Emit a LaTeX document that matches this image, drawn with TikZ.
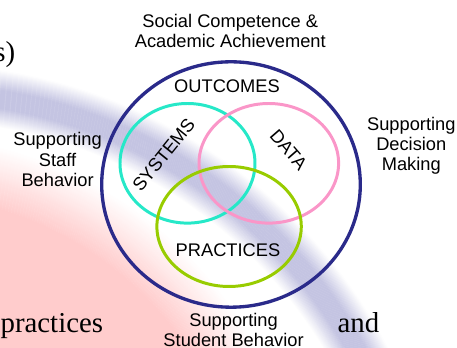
\documentclass[tikz,border=0pt]{standalone}
\usepackage{fontspec}
\newfontfamily\labelfont{Liberation Sans}
\newfontfamily\slidefont{Liberation Serif}

\definecolor{navyring}{RGB}{42,42,138}
\definecolor{systemsring}{RGB}{38,232,200}
\definecolor{dataring}{RGB}{250,150,200}
\definecolor{practicesring}{RGB}{152,204,0}
\definecolor{swoosh}{RGB}{196,196,226}
\definecolor{blush}{RGB}{255,204,204}

\begin{document}
\begin{tikzpicture}[
        ring/.style={line width=1.7pt},
        lbl/.style={font=\labelfont\fontsize{10.4}{11.6}\selectfont, align=center, inner sep=0pt},
        slide/.style={font=\slidefont\fontsize{16.4}{19}\selectfont, inner sep=0pt, anchor=base west},
        haze/.style={line width=0.026cm}
    ]
        \useasboundingbox (-4.62, -3.27) rectangle (4.52, 3.69);

        % background: pink corner with a soft edge
        \fill[blush] (-6.614, -7.106) circle (6.9);
        \foreach \r in {6.9, 6.92, ..., 8.1} {
            \pgfmathtruncatemacro{\p}{max(0, min(100, (8.1-\r)/1.2*100))}
            \draw[haze, blush!\p!white] (-6.614, -7.106) circle (\r);
        }

        % background: lavender swoosh
        \foreach \r in {9.42, 9.44, ..., 10.56} {
            \pgfmathtruncatemacro{\p}{max(0, min(100, (\r-9.42)/0.38*100, (10.56-\r)/0.4*100))}
            \draw[haze, swoosh!\p!white] (-6.214, -8.146) circle (\r);
        }

        % slide text around the diagram
        \node[slide] (txtS)   at (-4.74, 2.454)  {s)};
        \node[slide] (txtP)   at (-4.614, -2.952) {practices};
        \node[slide] (txtAnd) at (2.126, -2.952)  {and};

        % outer ring and the three overlapping rings
        \draw[ring, navyring, line width=1.9pt] (0, 0) ellipse (2.586 and 2.454);
        \draw[ring, systemsring]   (-0.87, 0.424)  ellipse (1.35 and 1.196);
        \draw[ring, dataring]      (0.756, 0.424)  ellipse (1.396 and 1.196);
        \draw[ring, practicesring] (-0.038, -0.84) ellipse (1.444 and 1.2);

        % ring labels
        \node[lbl] (outcomes)  at (-0.08, 1.974)  {OUTCOMES};
        \node[lbl, rotate=51]  (systems) at (-1.348, 0.594) {SYSTEMS};
        \node[lbl, rotate=-49] (data)    at (1.152, 0.694)  {DATA};
        \node[lbl] (practices) at (-0.06, -1.32)  {PRACTICES};

        % outer labels
        \node[lbl] (goal)     at (-0.014, 3.074) {Social Competence \&\\Academic Achievement};
        \node[lbl] (staff)    at (-3.468, 0.494) {Supporting\\Staff\\Behavior};
        \node[lbl] (decision) at (3.606, 0.774)  {Supporting\\Decision\\Making};
        \node[lbl] (student)  at (0.052, -2.912) {Supporting\\Student Behavior};
    \end{tikzpicture}
\end{document}
